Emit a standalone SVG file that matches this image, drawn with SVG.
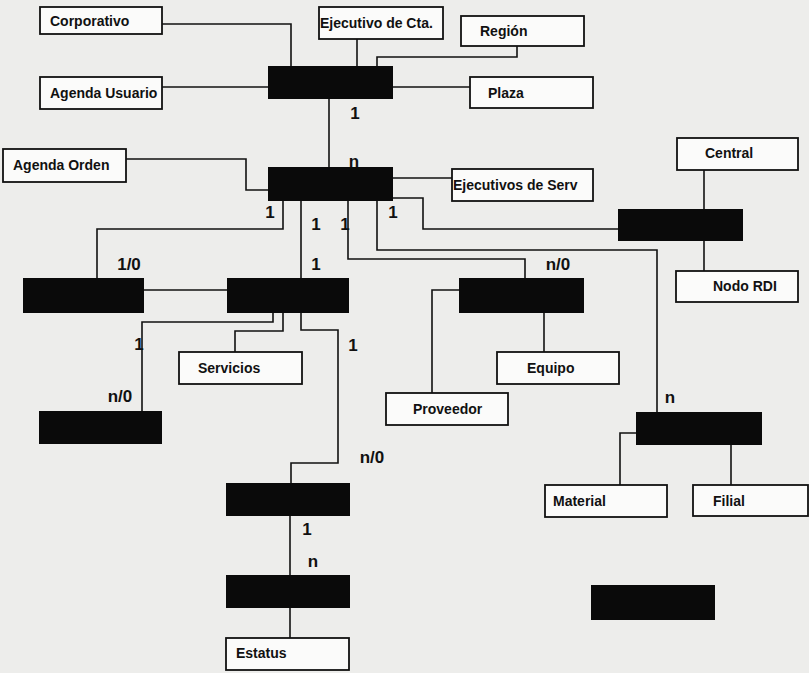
<svg xmlns="http://www.w3.org/2000/svg" width="809" height="673" viewBox="0 0 809 673">
<style>
.bg{fill:#ededeb}
.box{fill:#fbfbfa;stroke:#111;stroke-width:1.8}
.ent{fill:#0a0a0a}
.lbl{font-family:"Liberation Sans",Arial,sans-serif;font-weight:bold;font-size:14px;fill:#111}
.card{font-family:"Liberation Sans",Arial,sans-serif;font-weight:bold;font-size:17px;fill:#111;text-anchor:middle}
.con path{fill:none;stroke:#111;stroke-width:1.6}
</style>
<rect class="bg" x="0" y="0" width="809" height="673"/>
<g id="connectors" class="con">
<path d="M162,24 H291 V66"/>
<path d="M357,39 V66"/>
<path d="M517,46 V57 H377 V66"/>
<path d="M162,87 H268"/>
<path d="M393,87 H470"/>
<path d="M329,99 V167"/>
<path d="M126,159 H246 V190 H268"/>
<path d="M393,178 H452"/>
<path d="M393,198 H423 V229 H618"/>
<path d="M283,201 V229 H97 V278"/>
<path d="M301,201 V330 H338 V463 H291 V483"/>
<path d="M348,201 V259 H525 V278"/>
<path d="M377,201 V250 H657 V412"/>
<path d="M144,290 H227"/>
<path d="M273,313 V322 H142 V411"/>
<path d="M283,313 V331 H235 V352"/>
<path d="M704,170 V209"/>
<path d="M704,241 V271"/>
<path d="M459,290 H432 V393"/>
<path d="M544,313 V352"/>
<path d="M636,433 H620 V485"/>
<path d="M731,445 V485"/>
<path d="M290,516 V575"/>
<path d="M290,608 V638"/>
</g>
<g id="cardinalities">
<text class="card" x="355" y="119">1</text>
<text class="card" x="354" y="167">n</text>
<text class="card" x="270" y="218">1</text>
<text class="card" x="316" y="230">1</text>
<text class="card" x="345" y="230">1</text>
<text class="card" x="393" y="218">1</text>
<text class="card" x="129" y="270">1/0</text>
<text class="card" x="316" y="270">1</text>
<text class="card" x="558" y="270">n/0</text>
<text class="card" x="139" y="350">1</text>
<text class="card" x="120" y="402">n/0</text>
<text class="card" x="353" y="351">1</text>
<text class="card" x="372" y="463">n/0</text>
<text class="card" x="307" y="535">1</text>
<text class="card" x="313" y="567">n</text>
<text class="card" x="670" y="403">n</text>
</g>
<g id="corporativo"><rect class="box" x="40" y="7" width="122" height="27"/><text class="lbl" x="50" y="26">Corporativo</text></g>
<g id="ejecutivo-cta"><rect class="box" x="319" y="7" width="124" height="32"/><text class="lbl" x="320" y="28">Ejecutivo de Cta.</text></g>
<g id="region"><rect class="box" x="461" y="16" width="123" height="30"/><text class="lbl" x="480" y="36">Región</text></g>
<g id="agenda-usuario"><rect class="box" x="40" y="77" width="122" height="32"/><text class="lbl" x="50" y="98">Agenda Usuario</text></g>
<g id="plaza"><rect class="box" x="470" y="77" width="123" height="31"/><text class="lbl" x="488" y="98">Plaza</text></g>
<g id="agenda-orden"><rect class="box" x="3" y="149" width="123" height="33"/><text class="lbl" x="13" y="170">Agenda Orden</text></g>
<g id="ejecutivos-serv"><rect class="box" x="452" y="169" width="141" height="32"/><text class="lbl" x="453" y="190">Ejecutivos de Serv</text></g>
<g id="central"><rect class="box" x="677" y="138" width="121" height="32"/><text class="lbl" x="705" y="158">Central</text></g>
<g id="nodo-rdi"><rect class="box" x="676" y="271" width="122" height="31"/><text class="lbl" x="713" y="291">Nodo RDI</text></g>
<g id="servicios"><rect class="box" x="179" y="352" width="123" height="32"/><text class="lbl" x="198" y="373">Servicios</text></g>
<g id="equipo"><rect class="box" x="497" y="352" width="122" height="32"/><text class="lbl" x="527" y="373">Equipo</text></g>
<g id="proveedor"><rect class="box" x="386" y="393" width="122" height="32"/><text class="lbl" x="413" y="414">Proveedor</text></g>
<g id="material"><rect class="box" x="545" y="485" width="122" height="32"/><text class="lbl" x="553" y="506">Material</text></g>
<g id="filial"><rect class="box" x="693" y="485" width="115" height="31"/><text class="lbl" x="713" y="506">Filial</text></g>
<g id="estatus"><rect class="box" x="226" y="638" width="123" height="32"/><text class="lbl" x="236" y="658">Estatus</text></g>
<g id="entity-top"><rect class="ent" x="268" y="66" width="125" height="33"/></g>
<g id="entity-orden"><rect class="ent" x="268" y="167" width="125" height="34"/></g>
<g id="entity-nodo"><rect class="ent" x="618" y="209" width="125" height="32"/></g>
<g id="entity-left"><rect class="ent" x="23" y="278" width="121" height="35"/></g>
<g id="entity-mid"><rect class="ent" x="227" y="278" width="122" height="35"/></g>
<g id="entity-equipo"><rect class="ent" x="459" y="278" width="125" height="35"/></g>
<g id="entity-bottom-left"><rect class="ent" x="39" y="411" width="123" height="33"/></g>
<g id="entity-right"><rect class="ent" x="636" y="412" width="126" height="33"/></g>
<g id="entity-lower"><rect class="ent" x="226" y="483" width="124" height="33"/></g>
<g id="entity-status"><rect class="ent" x="226" y="575" width="124" height="33"/></g>
<g id="entity-lone"><rect class="ent" x="591" y="585" width="124" height="35"/></g>
</svg>
